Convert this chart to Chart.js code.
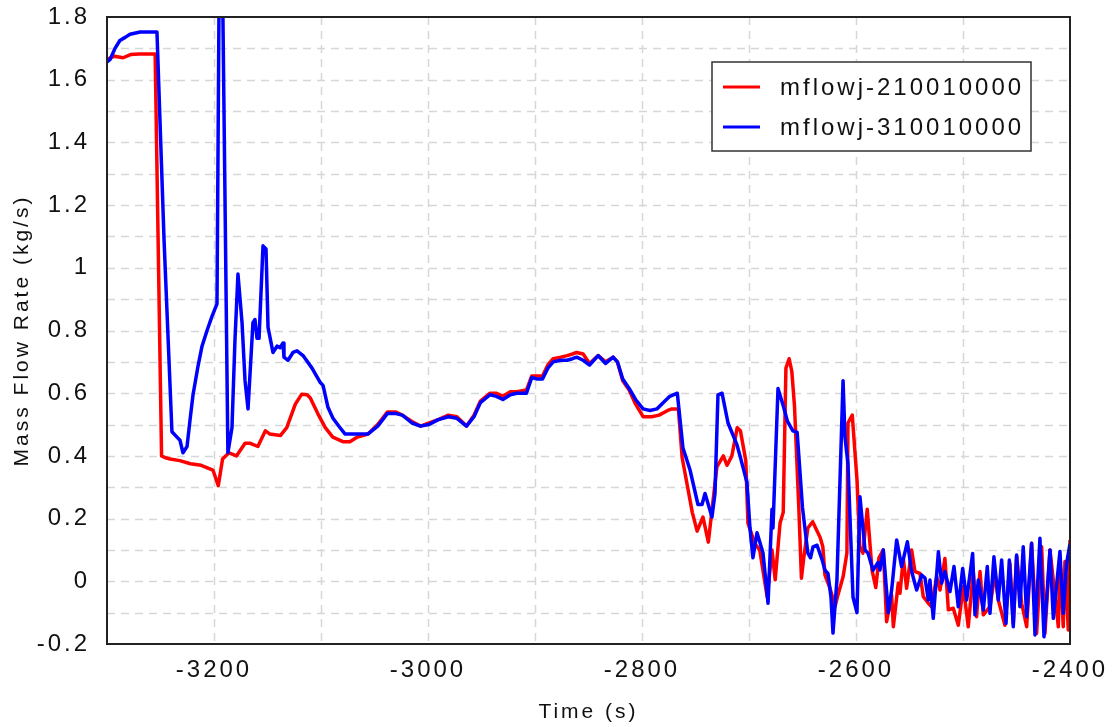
<!DOCTYPE html>
<html>
<head>
<meta charset="utf-8">
<script src="https://cdn.jsdelivr.net/npm/chart.js@4"></script>
<style>
  body { margin: 0; background: #fff; }
  #wrap { width: 1115px; height: 727px; }
</style>
</head>
<body>
<div id="wrap"><canvas id="myChart" width="1115" height="727"></canvas></div>
<script>
// series names
const seriesNames = ['mflowj-210010000', 'mflowj-310010000'];

// mflowj-210010000 (red)
const redTime = [
    -3300, -3293, -3285, -3278, -3270, -3255, -3249, -3246, -3241, -3232,
    -3222, -3212, -3201, -3196, -3192, -3186, -3179, -3171, -3166, -3159,
    -3152, -3148, -3138, -3132, -3124, -3118, -3113, -3110, -3103, -3096,
    -3089, -3079, -3073, -3066, -3056, -3047, -3038, -3030, -3024, -3015,
    -3007, -2999, -2991, -2981, -2973, -2964, -2957, -2951, -2942, -2936,
    -2930, -2923, -2917, -2908, -2903, -2898, -2893, -2888, -2883, -2876,
    -2870, -2865, -2861, -2855, -2849, -2841, -2834, -2827, -2823, -2818,
    -2812, -2806, -2799, -2791, -2784, -2776, -2772, -2766, -2762.5, -2753,
    -2748.5, -2743, -2738, -2730, -2724, -2720.5, -2716, -2711, -2708, -2703,
    -2701, -2694.5, -2690, -2683, -2678.5, -2675.5, -2671, -2668, -2665.5, -2662.5,
    -2660, -2657.5, -2653.5, -2651, -2649, -2645, -2640.5, -2633.5, -2631, -2629,
    -2624.5, -2619.5, -2617, -2612, -2608.5, -2607.5, -2603.5, -2599, -2596.5, -2593.5,
    -2589.5, -2585, -2581.5, -2578.5, -2574.5, -2571.4, -2566.7, -2565.1, -2560.5, -2558.9,
    -2555.8, -2552.7, -2548, -2544.9, -2540.2, -2537.1, -2532.4, -2529.3, -2524.6, -2521.5,
    -2516.9, -2513.7, -2509.1, -2504.4, -2499.7, -2495.1, -2490.4, -2487.3, -2484.1, -2481,
    -2474.8, -2470.1, -2467, -2460.8, -2456.1, -2453, -2449.9, -2445.2, -2440.5, -2435.9,
    -2431.2, -2426.5, -2423.4, -2418.7, -2410.9, -2409.4, -2406.3, -2404.7, -2401.6, -2400
];
const redFlow = [
    1.665, 1.675, 1.67, 1.68, 1.682, 1.682, 0.40, 0.395, 0.39, 0.385,
    0.375, 0.37, 0.355, 0.305, 0.39, 0.41, 0.40, 0.44, 0.44, 0.43,
    0.48, 0.47, 0.465, 0.49, 0.565, 0.597, 0.595, 0.585, 0.535, 0.49,
    0.46, 0.445, 0.445, 0.46, 0.47, 0.50, 0.54, 0.54, 0.53, 0.51,
    0.495, 0.505, 0.515, 0.53, 0.525, 0.495, 0.53, 0.575, 0.60, 0.60,
    0.59, 0.605, 0.605, 0.61, 0.655, 0.655, 0.655, 0.69, 0.71, 0.715,
    0.72, 0.725, 0.73, 0.725, 0.695, 0.72, 0.70, 0.715, 0.70, 0.64,
    0.61, 0.565, 0.525, 0.525, 0.53, 0.545, 0.55, 0.55, 0.395, 0.22,
    0.16, 0.205, 0.125, 0.365, 0.40, 0.37, 0.40, 0.49, 0.48, 0.385,
    0.185, 0.12, 0.10, -0.05, 0.10, 0.005, 0.185, 0.22, 0.68, 0.71,
    0.67, 0.56, 0.24, 0.01, 0.07, 0.17, 0.19, 0.14, 0.11, 0.02,
    -0.02, -0.08, -0.045, 0.015, 0.09, 0.505, 0.53, 0.32, 0.11, 0.09,
    0.23, 0.035, -0.02, 0.075, 0.10, -0.129, -0.044, -0.145, -0.006, -0.038,
    0.073, -0.022, 0.10, 0.031, 0.025, -0.049, -0.07, -0.081, 0.015, -0.028,
    0.073, -0.091, -0.086, -0.14, -0.017, -0.145, 0.031, -0.113, 0.031, -0.107,
    -0.081, 0.025, -0.06, -0.14, 0.057, -0.134, 0.079, -0.07, -0.145, 0.121,
    -0.166, 0.11, -0.166, 0.10, -0.145, 0.068, -0.145, 0.063, -0.155, 0.132
];

// mflowj-310010000 (blue)
const blueTime = [
    -3300, -3297, -3292.5, -3288, -3283, -3278.5, -3269, -3253.3, -3246.7, -3239.3,
    -3234.6, -3231.8, -3229, -3225.2, -3222.4, -3219.6, -3215, -3211.2, -3206.5, -3201.9,
    -3197.2, -3194, -3187, -3183.2, -3180.4, -3177.6, -3173.8, -3171, -3168.2, -3163.6,
    -3161.7, -3159.8, -3157.9, -3154.2, -3151.4, -3149.5, -3144.9, -3141.1, -3138.3, -3135.5,
    -3134.6, -3130.8, -3126.2, -3122.4, -3116.8, -3108.4, -3100.9, -3098.1, -3093.5, -3088.8,
    -3082.2, -3077.6, -3063.6, -3056, -3047, -3038, -3030, -3024, -3015, -3007,
    -2999, -2991, -2981, -2973, -2964, -2957, -2951, -2942, -2936, -2930,
    -2923, -2917, -2908, -2903, -2898, -2893, -2888, -2883, -2876, -2870,
    -2865, -2861, -2855, -2849, -2841, -2834, -2827, -2823, -2818, -2812,
    -2806, -2799, -2792.5, -2786, -2780, -2774, -2767, -2761.7, -2755.1, -2747.7,
    -2743.9, -2741.1, -2734.6, -2731.8, -2729, -2725.2, -2719.6, -2711.2, -2708.4, -2701.9,
    -2699.1, -2696.3, -2692.5, -2686.9, -2682.2, -2678.5, -2677.6, -2672.9, -2668, -2664,
    -2659, -2655, -2650, -2645, -2642.5, -2640.2, -2636.4, -2631.8, -2629, -2626.2,
    -2623.4, -2621.5, -2617.8, -2612.1, -2610.3, -2607.5, -2602.8, -2599.1, -2596.3, -2591.6,
    -2588.8, -2584.1, -2579.4, -2577.6, -2574.5, -2569.8, -2566.7, -2562, -2557.4, -2552,
    -2548, -2543.3, -2538.7, -2535.5, -2532.4, -2530.9, -2527.8, -2523, -2520, -2516.9,
    -2512.2, -2508.4, -2504.4, -2500.3, -2496.6, -2491, -2488.8, -2485.7, -2481, -2477.3,
    -2474.8, -2471.1, -2467, -2463.9, -2459.8, -2456.7, -2453, -2449.9, -2446.8, -2443.7,
    -2440.5, -2435.9, -2432.7, -2428.1, -2424.3, -2418.7, -2415.6, -2409.4, -2406.3, -2403.2,
    -2400
];
const blueFlow = [
    1.657, 1.665, 1.70, 1.725, 1.735, 1.745, 1.752, 1.752, 1.09, 0.477,
    0.46, 0.45, 0.41, 0.43, 0.515, 0.595, 0.685, 0.75, 0.80, 0.845,
    0.885, 2.5, 0.41, 0.49, 0.77, 0.98, 0.825, 0.64, 0.55, 0.825,
    0.835, 0.775, 0.775, 1.07, 1.06, 0.81, 0.73, 0.75, 0.745, 0.76,
    0.715, 0.705, 0.73, 0.735, 0.72, 0.68, 0.635, 0.625, 0.555, 0.52,
    0.49, 0.47, 0.47, 0.47, 0.495, 0.535, 0.535, 0.53, 0.505, 0.495,
    0.50, 0.515, 0.525, 0.52, 0.495, 0.525, 0.57, 0.595, 0.59, 0.58,
    0.595, 0.60, 0.60, 0.65, 0.645, 0.645, 0.68, 0.70, 0.705, 0.705,
    0.71, 0.715, 0.705, 0.69, 0.72, 0.695, 0.715, 0.70, 0.645, 0.615,
    0.58, 0.55, 0.545, 0.55, 0.57, 0.59, 0.60, 0.425, 0.355, 0.245,
    0.245, 0.28, 0.205, 0.28, 0.595, 0.60, 0.505, 0.435, 0.40, 0.315,
    0.17, 0.075, 0.155, 0.09, -0.07, 0.23, 0.17, 0.615, 0.56, 0.51,
    0.48, 0.475, 0.235, 0.09, 0.075, 0.11, 0.115, 0.07, 0.035, 0.025,
    -0.05, -0.165, 0.005, 0.64, 0.46, 0.375, -0.05, -0.10, 0.27, 0.10,
    0.09, 0.035, 0.06, 0.036, 0.10, -0.10, -0.028, 0.132, 0.047, 0.126,
    0.031, -0.028, 0.02, 0.01, -0.06, 0.004, -0.118, 0.094, -0.006, 0.031,
    -0.033, 0.047, -0.081, 0.041, -0.06, 0.089, -0.107, 0.004, -0.092, 0.047,
    -0.102, 0.078, -0.06, 0.068, -0.134, 0.068, -0.145, 0.084, -0.081, 0.11,
    -0.113, 0.121, -0.171, 0.137, -0.177, 0.10, -0.118, 0.095, -0.102, 0.057,
    0.12
];

// axis ranges and tick steps
const xRange = [-3300, -2400];
const yRange = [-0.2, 1.8];
const xGridStep = 100, xLabelStep = 200;
const yGridStep = 0.1;

const fontFamily = "'Liberation Sans', Arial, sans-serif";

function toPoints(times, values) {
    let data = [];
    for (let i = 0; i < times.length; i++) {
        data.push({ x: times[i], y: values[i] });
    }
    return data;
}

// the reference text is a bit spaced out
const spacing = {
    id: 'spacing',
    beforeUpdate(chart) { chart.ctx.letterSpacing = '3px'; },
    beforeLayout(chart) { chart.ctx.letterSpacing = '3px'; },
    beforeDraw(chart) { chart.ctx.letterSpacing = '3px'; }
};

// dashed grid, every 100 s and every 0.1 kg/s
const dashedGrid = {
    id: 'dashedGrid',
    beforeDatasetsDraw(chart) {
        const ctx = chart.ctx;
        const a = chart.chartArea;
        const xs = chart.scales.x, ys = chart.scales.y;
        ctx.save();
        ctx.strokeStyle = '#d6d6d6';
        ctx.lineWidth = 1.5;
        ctx.setLineDash([8, 6]);
        for (let v = xRange[0] + xGridStep; v < xRange[1] - 1e-6; v += xGridStep) {
            const px = Math.round(xs.getPixelForValue(v)) + 0.5;
            ctx.beginPath();
            ctx.moveTo(px, a.top);
            ctx.lineTo(px, a.bottom);
            ctx.stroke();
        }
        for (let i = 1; i < Math.round((yRange[1] - yRange[0]) / yGridStep); i++) {
            const py = Math.round(ys.getPixelForValue(yRange[0] + i * yGridStep)) + 0.5;
            ctx.beginPath();
            ctx.moveTo(a.left, py);
            ctx.lineTo(a.right, py);
            ctx.stroke();
        }
        ctx.restore();
    }
};

// box round the plot + legend inside top right
const frameAndLegend = {
    id: 'frameAndLegend',
    afterDraw(chart) {
        const ctx = chart.ctx;
        const a = chart.chartArea;
        ctx.save();
        ctx.strokeStyle = '#222';
        ctx.lineWidth = 2;
        ctx.strokeRect(a.left, a.top, a.right - a.left, a.bottom - a.top);

        const bx = a.right - 358, by = a.top + 45, bw = 319, bh = 89;
        ctx.fillStyle = '#fff';
        ctx.fillRect(bx, by, bw, bh);
        ctx.strokeStyle = '#333';
        ctx.lineWidth = 1.5;
        ctx.strokeRect(bx, by, bw, bh);

        ctx.font = '24px ' + fontFamily;
        ctx.letterSpacing = '3px';
        ctx.textBaseline = 'middle';
        ctx.fillStyle = '#111';
        chart.data.datasets.forEach(function(ds, i) {
            const ly = by + 25 + i * 40;
            ctx.strokeStyle = ds.borderColor;
            ctx.lineWidth = 3;
            ctx.beginPath();
            ctx.moveTo(bx + 11, ly);
            ctx.lineTo(bx + 48, ly);
            ctx.stroke();
            ctx.fillText(ds.label, bx + 68, ly + 1);
        });
        ctx.restore();
    }
};

const ctx = document.getElementById('myChart');
const myChart = new Chart(ctx, {
    type: 'line',
    data: {
        datasets: [{
            label: seriesNames[0],
            data: toPoints(redTime, redFlow),
            borderColor: '#ff0000',
            backgroundColor: '#ff0000',
            borderWidth: 3.5,
            pointRadius: 0,
            tension: 0,
            borderJoinStyle: 'round',
            order: 1
        }, {
            label: seriesNames[1],
            data: toPoints(blueTime, blueFlow),
            borderColor: '#0000ff',
            backgroundColor: '#0000ff',
            borderWidth: 3.5,
            pointRadius: 0,
            tension: 0,
            borderJoinStyle: 'round',
            order: 0
        }]
    },
    options: {
        responsive: false,
        animation: false,
        layout: { padding: { left: 0, right: 45, top: 17, bottom: 0 } },
        plugins: {
            legend: { display: false },
            tooltip: { enabled: false }
        },
        scales: {
            x: {
                type: 'linear',
                min: xRange[0],
                max: xRange[1],
                grid: { display: false },
                border: { display: false },
                ticks: {
                    stepSize: xGridStep,
                    maxRotation: 0,
                    autoSkip: false,
                    padding: 4,
                    color: '#111',
                    font: { family: fontFamily, size: 24 },
                    callback: function(v) {
                        return Math.abs(v % xLabelStep) < 1e-6 ? String(v) : '';
                    }
                },
                title: {
                    display: true,
                    text: 'Time (s)',
                    color: '#111',
                    font: { family: fontFamily, size: 21 },
                    padding: { top: 0, bottom: 2 }
                },
                afterFit: function(scale) {
                    scale.height = 83;
                    scale.paddingLeft = 0;
                    scale.paddingRight = 0;
                }
            },
            y: {
                min: yRange[0],
                max: yRange[1],
                grid: { display: false },
                border: { display: false },
                ticks: {
                    stepSize: yGridStep,
                    autoSkip: false,
                    padding: 9,
                    color: '#111',
                    font: { family: fontFamily, size: 24 },
                    callback: function(v) {
                        let n = Math.round(v * 10);
                        return n % 2 === 0 ? String(n / 10) : '';
                    }
                },
                title: {
                    display: true,
                    text: 'Mass Flow Rate (kg/s)',
                    color: '#111',
                    font: { family: fontFamily, size: 21 },
                    padding: { top: 10, bottom: 0 }
                },
                afterFit: function(scale) {
                    scale.width = 107;
                    scale.paddingTop = 0;
                    scale.paddingBottom = 0;
                }
            }
        }
    },
    plugins: [spacing, dashedGrid, frameAndLegend]
});
</script>
</body>
</html>
